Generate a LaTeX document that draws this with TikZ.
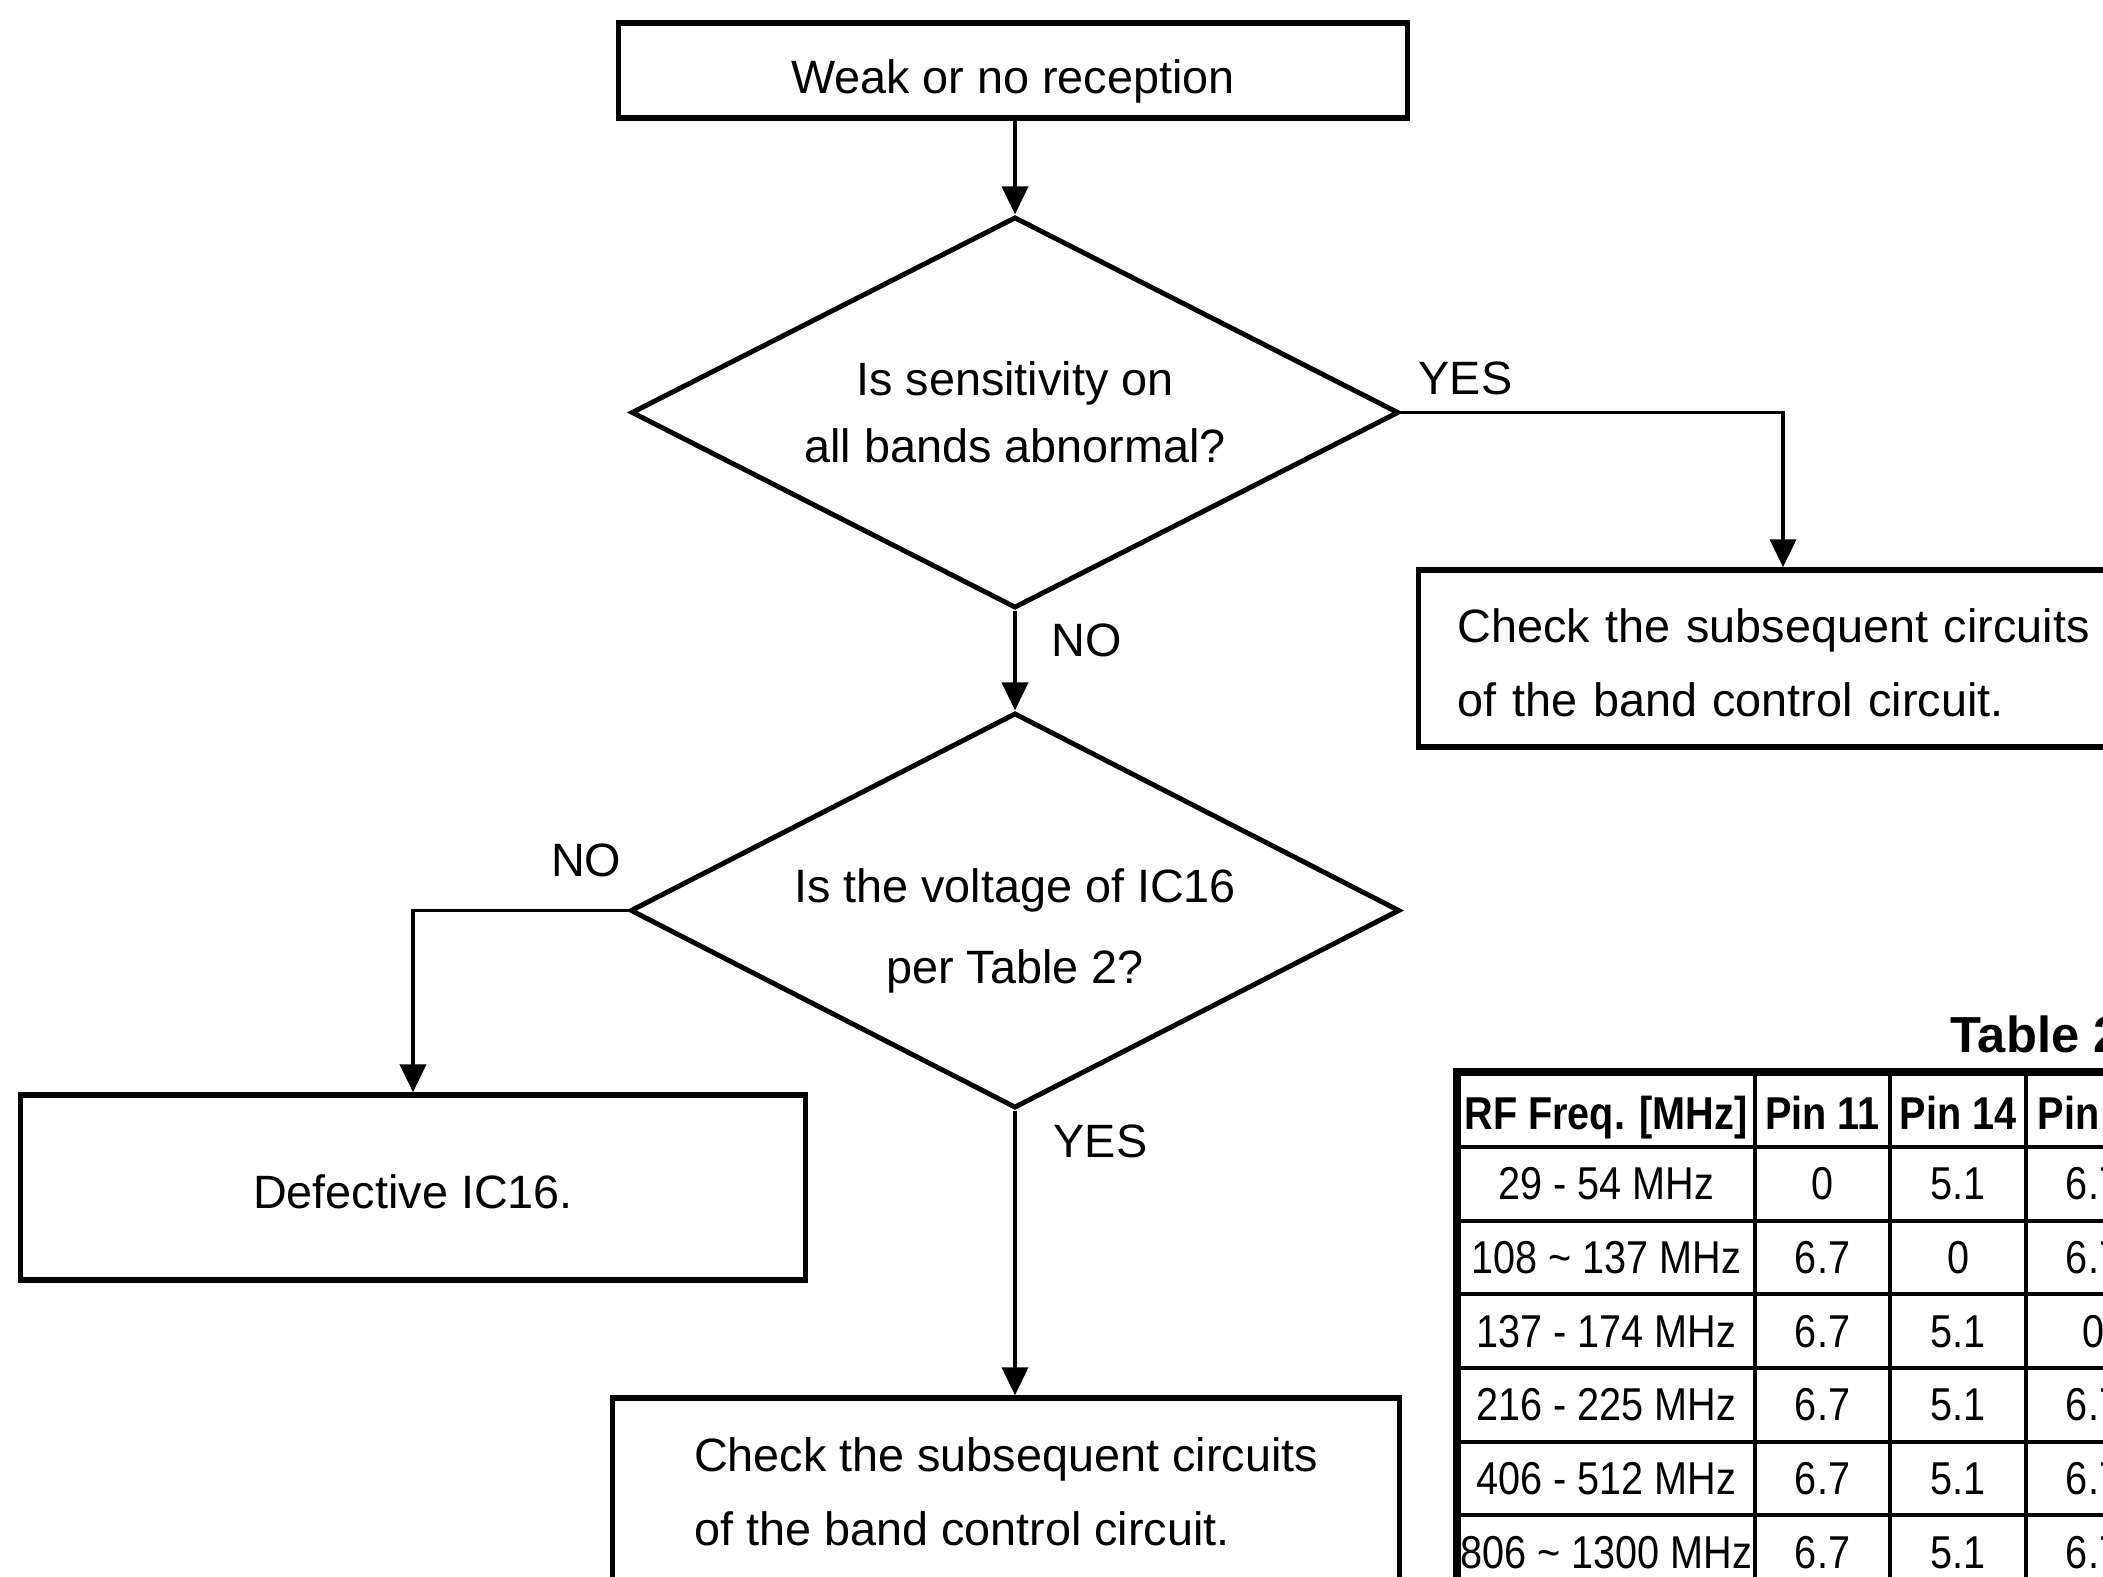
\documentclass[tikz,border=0pt]{standalone}
\usepackage{fontspec}
\setmainfont{Liberation Sans}
\newfontfamily\tabfont[FakeStretch=0.86]{Liberation Sans}
\usetikzlibrary{arrows.meta,shapes.geometric,calc}
\begin{document}
\begin{tikzpicture}[x=0.01cm,y=-0.01cm,
  txt/.style={font=\fontsize{13.3pt}{17.4pt}\selectfont},
  procbox/.style={txt,draw,line width=1.5pt,inner sep=0pt},
  decision/.style={txt,draw,diamond,line width=1.4pt,inner sep=0pt,align=center,aspect=1.95},
  conn/.style={line width=1.1pt},
  arr/.style={conn,-{Triangle[length=0.28cm,width=0.26cm]}},
  lbl/.style={txt,inner sep=0pt},
  tline/.style={line width=1.3pt},
  tborder/.style={line width=2.3pt},
  cell/.style={inner sep=0pt,anchor=base,font=\tabfont\fontsize{13.1pt}{15pt}\selectfont},
  hcell/.style={inner sep=0pt,anchor=base,font=\tabfont\bfseries\fontsize{13.1pt}{15pt}\selectfont},
  ttlstyle/.style={inner sep=0pt,anchor=base west,font=\bfseries\fontsize{14.4pt}{16pt}\selectfont},
]
\fill[white] (0,0) rectangle (2103,1577);
\useasboundingbox (0,0) rectangle (2103,1577);
\clip (0,0) rectangle (2103,1577);

% flowchart nodes
\node[procbox,minimum width=7.88cm,minimum height=0.95cm,text height=0.46cm,text depth=0pt] (start) at (1013,70.5) {Weak or no reception};
\node[decision,minimum width=7.67cm,minimum height=3.91cm,font=\fontsize{13.3pt}{19pt}\selectfont] (q1) at (1015,412.5) {Is sensitivity on\\all bands abnormal?};
\node[procbox,minimum width=7.28cm,minimum height=1.77cm,text width=6.5cm,align=left,font=\fontsize{13.3pt}{21pt}\selectfont] (r1) at (1783,658.5) {\rule{0pt}{0.42cm}Check the subsequent circuits\\of the band control circuit.};
\node[decision,minimum width=7.69cm,minimum height=3.95cm,font=\fontsize{13.3pt}{23pt}\selectfont] (q2) at (1015,910.5) {\rule{0pt}{0.75cm}Is the voltage of IC16\\per Table 2?};
\node[procbox,minimum width=7.84cm,minimum height=1.85cm,text height=0.41cm,text depth=0pt] (def) at (413,1187.5) {Defective IC16.};
\node[procbox,minimum width=7.86cm,minimum height=2.04cm,align=left,font=\fontsize{13.3pt}{21pt}\selectfont] (r2) at (1006,1500) {Check the subsequent circuits\\of the band control circuit.\rule[-0.17cm]{0pt}{0pt}};

% labels
\node[lbl,anchor=base west] (yes1) at (1418,395) {YES};
\node[lbl,anchor=base west] (no1) at (1051,657) {NO};
\node[lbl,anchor=base east] (no2) at (622,877) {NO};
\node[lbl,anchor=base west] (yes2) at (1053,1158) {YES};

% connectors
\draw[arr] (start.south -| q1.north) -- (q1.north);
\draw[arr] (q1.east) -| (r1.north);
\draw[arr] (q1.south) -- (q2.north);
\draw[arr] (q2.west) -| (def.north);
\draw[arr] (q2.south) -- (q2.south |- r2.north);

% table
\node[ttlstyle] (ttl) at (1950,1053) {Table 2};
\foreach \yy in {1147,1221,1294,1368,1442,1515,1589}
  \draw[tline] (1457,\yy) -- (2200,\yy);
\foreach \xx in {1755,1890,2026,2161}
  \draw[tline] (\xx,1072) -- (\xx,1650);
\draw[tborder] (1457,1650) -- (1457,1072) -- (2200,1072);

\node[hcell] (h1) at (1606,1130) {RF Freq. [MHz]};
\node[hcell] (h2) at (1822.5,1130) {Pin 11};
\node[hcell] (h3) at (1958,1130) {Pin 14};
\node[hcell,anchor=base west] (h4) at (2037,1130) {Pin};

\foreach \a/\b/\c/\d [count=\i] in {
  29 - 54 MHz/0/5.1/6.7,
  108 \textasciitilde{} 137 MHz/6.7/0/6.7,
  137 - 174 MHz/6.7/5.1/0,
  216 - 225 MHz/6.7/5.1/6.7,
  406 - 512 MHz/6.7/5.1/6.7,
  806 \textasciitilde{} 1300 MHz/6.7/5.1/6.7}
{
  \pgfmathsetmacro\yy{1184+73.6*(\i-1)+16}
  \node[cell] (t-\i-1) at (1606,\yy) {\a};
  \node[cell] (t-\i-2) at (1822.5,\yy) {\b};
  \node[cell] (t-\i-3) at (1958,\yy) {\c};
  \node[cell] (t-\i-4) at (2093.5,\yy) {\d};
}
\end{tikzpicture}
\end{document}
